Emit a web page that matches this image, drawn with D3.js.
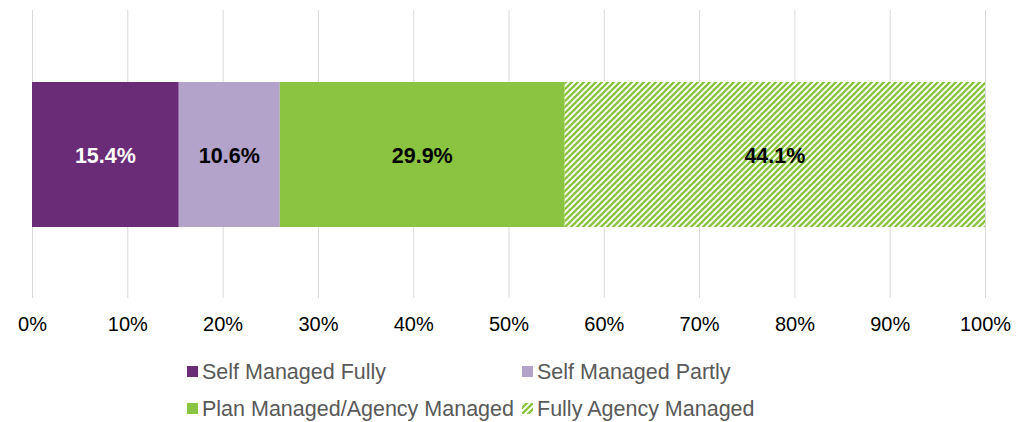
<!DOCTYPE html>
<html>
<head>
<meta charset="utf-8">
<script src="https://cdn.jsdelivr.net/npm/d3@7"></script>
<style>
  body { margin: 0; background: #fff; }
  text { font-family: "Liberation Sans", Arial, sans-serif; }
</style>
</head>
<body>
<script>
const width = 1030;
const height = 422;

// data
const categories = ["Self Managed Fully", "Self Managed Partly", "Plan Managed/Agency Managed", "Fully Agency Managed"];
const values = [15.4, 10.6, 29.9, 44.1];
const colors = ["#6b2c77", "#b3a2c9", "#8bc440", "url(#hatch)"];
const labelColors = ["#ffffff", "#000000", "#000000", "#000000"];
const tickValues = [0, 10, 20, 30, 40, 50, 60, 70, 80, 90, 100];

let svg = d3.select("body").append("svg")
  .attr("width", width)
  .attr("height", height);

// hatch pattern for the last series
let pat = svg.append("defs").append("pattern")
  .attr("id", "hatch")
  .attr("patternUnits", "userSpaceOnUse")
  .attr("width", 6)
  .attr("height", 6);
pat.append("rect").attr("width", 6).attr("height", 6).attr("fill", "#fff");
pat.append("path")
  .attr("d", "M-1,7 L7,-1 M-4,4 L4,-4 M2,10 L10,2")
  .attr("stroke", "#8bc440")
  .attr("stroke-width", 2.4);

let x = d3.scaleLinear().domain([0, 100]).range([32, 985]);

// gridlines
svg.append("g")
  .selectAll("line")
  .data(tickValues)
  .join("line")
  .attr("x1", d => x(d) + 0.5)
  .attr("x2", d => x(d) + 0.5)
  .attr("y1", 10)
  .attr("y2", 298)
  .attr("stroke", "#d9d9d9")
  .attr("stroke-width", 1);

// axis labels
let axis = svg.append("g")
  .attr("transform", "translate(0, 298)")
  .call(d3.axisBottom(x).tickValues(tickValues).tickFormat(d => d + "%").tickSize(0).tickPadding(19));
axis.select(".domain").remove();
axis.selectAll("text")
  .attr("font-size", 20)
  .attr("fill", "#000")
  .style("font-family", "Liberation Sans, Arial, sans-serif");

// stacked bar
let stack = [];
let acc = 0;
values.forEach((v, i) => { stack.push({ name: categories[i], v: v, x0: acc, x1: acc + v, i: i }); acc += v; });

svg.append("g")
  .selectAll("rect")
  .data(stack)
  .join("rect")
  .attr("x", d => x(d.x0))
  .attr("width", d => x(d.x1) - x(d.x0))
  .attr("y", 82)
  .attr("height", 145)
  .attr("fill", d => colors[d.i]);

svg.append("g")
  .selectAll("text")
  .data(stack)
  .join("text")
  .attr("x", d => (x(d.x0) + x(d.x1)) / 2)
  .attr("y", 155)
  .attr("dy", "0.35em")
  .attr("text-anchor", "middle")
  .attr("font-size", 21.5)
  .attr("font-weight", "bold")
  .attr("fill", d => labelColors[d.i])
  .text(d => d.v.toFixed(1) + "%");

// legend
const legendPos = [[187, 371], [522, 371], [187, 408], [522, 408]];
let legend = svg.append("g")
  .selectAll("g")
  .data(categories)
  .join("g")
  .attr("transform", (d, i) => `translate(${legendPos[i][0]}, ${legendPos[i][1]})`);
legend.append("rect")
  .attr("x", 0)
  .attr("y", -5)
  .attr("width", 11)
  .attr("height", 11)
  .attr("fill", (d, i) => colors[i]);
legend.append("text")
  .attr("x", 15)
  .attr("y", 0)
  .attr("dy", "0.35em")
  .attr("font-size", 21.5)
  .attr("fill", "#595959")
  .text(d => d);
</script>
</body>
</html>
